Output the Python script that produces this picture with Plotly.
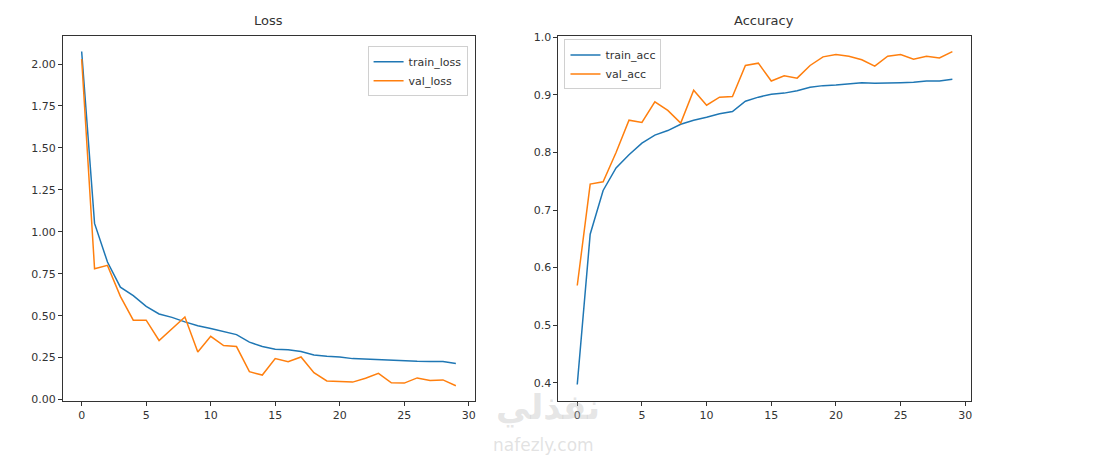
import plotly.graph_objects as go

# epochs 0..29
epochs = list(range(30))

train_loss = [2.075, 1.05, 0.82, 0.67, 0.62, 0.556, 0.51, 0.49, 0.463, 0.44,
              0.424, 0.406, 0.387, 0.342, 0.316, 0.30, 0.297, 0.287, 0.266, 0.258,
              0.254, 0.244, 0.24, 0.238, 0.236, 0.232, 0.228, 0.227, 0.227, 0.215]
val_loss = [2.03, 0.78, 0.80, 0.615, 0.473, 0.473, 0.352, 0.42, 0.492, 0.283,
            0.377, 0.322, 0.316, 0.166, 0.146, 0.244, 0.225, 0.254, 0.16, 0.111,
            0.109, 0.104, 0.127, 0.156, 0.10, 0.098, 0.129, 0.113, 0.117, 0.082]

train_acc = [0.397, 0.658, 0.734, 0.773, 0.796, 0.816, 0.830, 0.838, 0.849, 0.856,
             0.861, 0.867, 0.871, 0.889, 0.896, 0.901, 0.903, 0.907, 0.913, 0.916,
             0.917, 0.919, 0.921, 0.920, 0.920, 0.921, 0.922, 0.924, 0.924, 0.927]
val_acc = [0.569, 0.745, 0.749, 0.80, 0.856, 0.852, 0.888, 0.873, 0.851, 0.908,
           0.882, 0.896, 0.897, 0.951, 0.955, 0.924, 0.933, 0.929, 0.951, 0.966,
           0.970, 0.967, 0.961, 0.950, 0.967, 0.970, 0.962, 0.967, 0.964, 0.975]

BLUE = "#1f77b4"
ORANGE = "#ff7f0e"
FONT = "DejaVu Sans"
W, H = 1093, 460
OFF = 8  # page body margin


def px(x):
    return (x - OFF) / W


def py(y):
    return 1 - (y - OFF) / H


fig = go.Figure()
fig.add_trace(go.Scatter(x=epochs, y=train_loss, mode="lines", name="train_loss",
                         line=dict(color=BLUE, width=1.5), xaxis="x", yaxis="y", legend="legend"))
fig.add_trace(go.Scatter(x=epochs, y=val_loss, mode="lines", name="val_loss",
                         line=dict(color=ORANGE, width=1.5), xaxis="x", yaxis="y", legend="legend"))
fig.add_trace(go.Scatter(x=epochs, y=train_acc, mode="lines", name="train_acc",
                         line=dict(color=BLUE, width=1.5), xaxis="x2", yaxis="y2", legend="legend2"))
fig.add_trace(go.Scatter(x=epochs, y=val_acc, mode="lines", name="val_acc",
                         line=dict(color=ORANGE, width=1.5), xaxis="x2", yaxis="y2", legend="legend2"))

ax_style = dict(showgrid=False, zeroline=False, showline=True, linecolor="#333333",
                linewidth=1, mirror=True, ticks="outside", ticklen=4, tickcolor="#333333",
                tickfont=dict(family=FONT, size=11, color="#333333"))

ydom = [py(405), py(32)]
fig.update_layout(
    width=W, height=H,
    margin=dict(l=0, r=0, t=0, b=0),
    paper_bgcolor="white", plot_bgcolor="white",
    font=dict(family=FONT, size=11, color="#333333"),
    xaxis=dict(domain=[px(63), px(475)], range=[-1.45, 30.45], dtick=5, tick0=0, anchor="y", **ax_style),
    yaxis=dict(domain=ydom, range=[-0.01, 2.17], dtick=0.25, tick0=0, tickformat=".2f", anchor="x", **ax_style),
    xaxis2=dict(domain=[px(559), px(972)], range=[-1.45, 30.45], dtick=5, tick0=0, anchor="y2", **ax_style),
    yaxis2=dict(domain=ydom, range=[0.368, 1.003], dtick=0.1, tick0=0.4, tickformat=".1f", anchor="x2", **ax_style),
    legend=dict(x=px(468), y=py(43), xanchor="right", yanchor="top",
                bgcolor="rgba(255,255,255,0.8)", bordercolor="#d0d0d0", borderwidth=1,
                font=dict(family=FONT, size=11, color="#333333"), tracegroupgap=0),
    legend2=dict(x=px(565), y=py(36), xanchor="left", yanchor="top",
                 bgcolor="rgba(255,255,255,0.8)", bordercolor="#d0d0d0", borderwidth=1,
                 font=dict(family=FONT, size=11, color="#333333"), tracegroupgap=0),
    showlegend=True,
)

# subplot titles
for label, xc in [("Loss", 269), ("Accuracy", 765)]:
    fig.add_annotation(text=label, x=px(xc), y=py(17), xref="paper", yref="paper",
                       xanchor="center", yanchor="middle", showarrow=False,
                       font=dict(family=FONT, size=13, color="#333333"))

# watermark
fig.add_annotation(text="<b>نفذلي</b>", x=px(548), y=py(411), xref="paper", yref="paper",
                   xanchor="center", yanchor="middle", showarrow=False,
                   font=dict(family=FONT, size=34, color="rgba(190,190,190,0.4)"))
fig.add_annotation(text="nafezly.com", x=px(544), y=py(450), xref="paper", yref="paper",
                   xanchor="center", yanchor="middle", showarrow=False,
                   font=dict(family=FONT, size=17, color="rgba(190,190,190,0.45)"))

fig.write_html("out.html")
